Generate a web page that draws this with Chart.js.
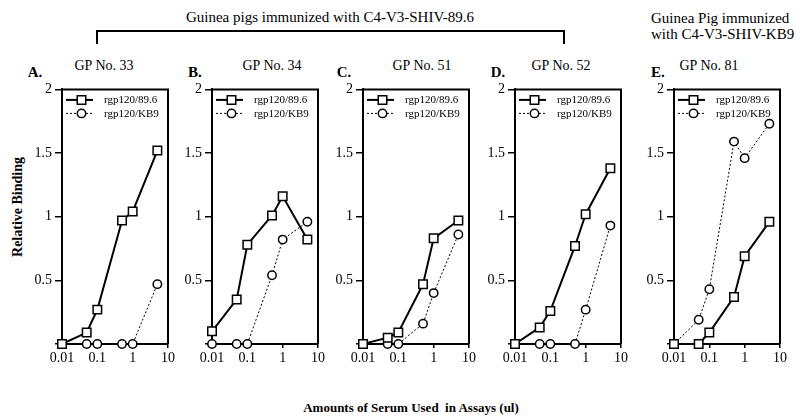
<!DOCTYPE html>
<html>
<head>
<meta charset="utf-8">
<script src="https://cdn.jsdelivr.net/npm/chart.js@4.4.0/dist/chart.umd.min.js"></script>
<style>
  body { margin: 0; background: #fff; width: 800px; height: 419px; position: relative; overflow: hidden;
         font-family: "Liberation Serif", "Times New Roman", serif; color: #000; }
  .t { position: absolute; white-space: nowrap; line-height: 1; transform: translate(-50%, -50%); }
  .l { position: absolute; white-space: nowrap; line-height: 1; }
  .bold { font-weight: bold; }
  .line { position: absolute; background: #000; }
  canvas { position: absolute; }
</style>
</head>
<body>

<div class="t" style="left:330px;top:17px;font-size:15px">Guinea pigs immunized with C4-V3-SHIV-89.6</div>
<div class="line" style="left:96px;top:30px;width:469px;height:1.5px"></div>
<div class="line" style="left:96px;top:30px;width:1.5px;height:14px"></div>
<div class="line" style="left:563px;top:30px;width:1.5px;height:14px"></div>
<div class="l" style="left:651px;top:10px;font-size:15px;line-height:16px">Guinea Pig immunized<br>with C4-V3-SHIV-KB9</div>

<div class="t bold" style="left:18px;top:207px;font-size:14px;transform:translate(-50%,-50%) rotate(-90deg)">Relative Binding</div>
<div class="t bold" style="left:411px;top:407px;font-size:13px">Amounts of Serum Used&nbsp; in Assays (ul)</div>

<div id="panels"></div>

<script>
// x values (ul of serum)
const doses = [0.01, 0.05, 0.1, 0.5, 1, 5];
const xTicks = [0.01, 0.1, 1, 10];
const yTicks = [0, 0.5, 1, 1.5, 2];

const seriesNames = ['rgp120/89.6', 'rgp120/KB9'];
const gpTitles = ['GP No. 33', 'GP No. 34', 'GP No. 51', 'GP No. 52', 'GP No. 81'];
const panelLetters = ['A.', 'B.', 'C.', 'D.', 'E.'];

// relative binding
const gp33_896 = [0, 0.09, 0.27, 0.97, 1.04, 1.52];
const gp33_kb9 = [0, 0, 0, 0, 0, 0.47];
const gp34_896 = [0.10, 0.35, 0.78, 1.01, 1.16, 0.82];
const gp34_kb9 = [0, 0, 0, 0.54, 0.82, 0.96];
const gp51_896 = [0, 0.05, 0.09, 0.47, 0.83, 0.97];
const gp51_kb9 = [0, 0, 0, 0.16, 0.40, 0.86];
const gp52_896 = [0, 0.13, 0.26, 0.77, 1.02, 1.38];
const gp52_kb9 = [0, 0, 0, 0, 0.27, 0.93];
const gp81_896 = [0, 0, 0.09, 0.37, 0.69, 0.96];
const gp81_kb9 = [0, 0.19, 0.43, 1.59, 1.46, 1.73];

const panelData = [
  [gp33_896, gp33_kb9],
  [gp34_896, gp34_kb9],
  [gp51_896, gp51_kb9],
  [gp52_896, gp52_kb9],
  [gp81_896, gp81_kb9]
];

// layout
const plotLefts = [62, 212, 363, 515, 674];
const plotW = 106;
const axisW = 50;
const titleX = [104, 272, 422, 561, 709];
const letterX = [35, 195, 344, 498, 658];
const serif = "'Liberation Serif', 'Times New Roman', serif";

// draws top/right frame and the little legend inside the plot box
const boxLegend = {
  id: 'boxLegend',
  beforeDatasetsDraw(chart) {
    const { ctx, chartArea: a } = chart;
    ctx.save();
    ctx.strokeStyle = '#000';
    ctx.lineWidth = 2;
    ctx.beginPath();
    ctx.moveTo(a.left, a.top);
    ctx.lineTo(a.right, a.top);
    ctx.lineTo(a.right, a.bottom);
    ctx.stroke();
    ctx.restore();
  },
  afterDatasetsDraw(chart) {
    const { ctx, chartArea: a } = chart;
    ctx.save();
    chart.data.datasets.forEach((ds, i) => {
      const y = a.top + 10.5 + i * 13.5;
      ctx.strokeStyle = '#000';
      ctx.lineWidth = ds.borderWidth;
      ctx.setLineDash(ds.borderDash || []);
      ctx.beginPath();
      ctx.moveTo(a.left + 4, y);
      ctx.lineTo(a.left + 31, y);
      ctx.stroke();
      ctx.setLineDash([]);
      ctx.fillStyle = '#fff';
      ctx.lineWidth = ds.pointBorderWidth;
      Chart.helpers.drawPoint(ctx, {
        pointStyle: ds.pointStyle, radius: ds.pointRadius,
        borderWidth: ds.pointBorderWidth, rotation: 0
      }, a.left + 19.5, y);
      ctx.fillStyle = '#000';
      ctx.font = '11px ' + serif;
      ctx.textBaseline = 'middle';
      ctx.textAlign = 'left';
      ctx.fillText(ds.label, a.left + 42, y + 0.5);
    });
    ctx.restore();
  }
};

function drawPanels() {
  const holder = document.getElementById('panels');

  panelData.forEach((pair, p) => {
    const title = document.createElement('div');
    title.className = 't';
    title.style.cssText = `left:${titleX[p]}px;top:66px;font-size:14px`;
    title.textContent = gpTitles[p];
    holder.appendChild(title);

    const letter = document.createElement('div');
    letter.className = 't bold';
    letter.style.cssText = `left:${letterX[p]}px;top:72px;font-size:15px`;
    letter.textContent = panelLetters[p];
    holder.appendChild(letter);

    const cv = document.createElement('canvas');
    cv.width = 170;
    cv.height = 302;
    cv.style.left = (plotLefts[p] - axisW) + 'px';
    cv.style.top = '78px';
    holder.appendChild(cv);

    new Chart(cv, {
      type: 'line',
      data: {
        datasets: [
          {
            label: seriesNames[0],
            data: doses.map((d, i) => ({ x: d, y: pair[0][i] })),
            borderColor: '#000',
            borderWidth: 2,
            pointStyle: 'rect',
            pointRadius: 6,
            pointBackgroundColor: '#fff',
            pointBorderColor: '#000',
            pointBorderWidth: 1.5,
            tension: 0,
            clip: false
          },
          {
            label: seriesNames[1],
            data: doses.map((d, i) => ({ x: d, y: pair[1][i] })),
            borderColor: '#000',
            borderWidth: 1,
            borderDash: [2, 2],
            pointStyle: 'circle',
            pointRadius: 4.2,
            pointBackgroundColor: '#fff',
            pointBorderColor: '#000',
            pointBorderWidth: 1.5,
            tension: 0,
            clip: false
          }
        ]
      },
      options: {
        responsive: false,
        animation: false,
        events: [],
        layout: { padding: { top: 10, right: 170 - axisW - plotW, left: 0, bottom: 0 } },
        plugins: { legend: { display: false }, tooltip: { enabled: false } },
        scales: {
          x: {
            type: 'logarithmic',
            min: 0.01,
            max: 10,
            afterBuildTicks: s => { s.ticks = xTicks.map(v => ({ value: v })); },
            afterFit: s => { s.height = 36; },
            ticks: {
              color: '#000',
              font: { family: serif, size: 14 },
              maxRotation: 0,
              autoSkip: false,
              padding: 2,
              callback: v => String(v)
            },
            grid: { drawOnChartArea: false, drawTicks: true, tickLength: 4, color: '#000', lineWidth: 1.5 },
            border: { color: '#000', width: 2 }
          },
          y: {
            min: 0,
            max: 2,
            afterBuildTicks: s => { s.ticks = yTicks.map(v => ({ value: v })); },
            afterFit: s => { s.width = axisW; },
            ticks: {
              color: '#000',
              font: { family: serif, size: 14 },
              padding: 3,
              callback: v => (v === 0 ? '' : String(v))
            },
            grid: { drawOnChartArea: false, drawTicks: true, tickLength: 7, color: '#000', lineWidth: 1.5 },
            border: { color: '#000', width: 2 }
          }
        }
      },
      plugins: [boxLegend]
    });
  });
}

Promise.all([
  document.fonts.load("14px 'Liberation Serif'"),
  document.fonts.load("11px 'Liberation Serif'")
]).then(drawPanels, drawPanels);
</script>
</body>
</html>
